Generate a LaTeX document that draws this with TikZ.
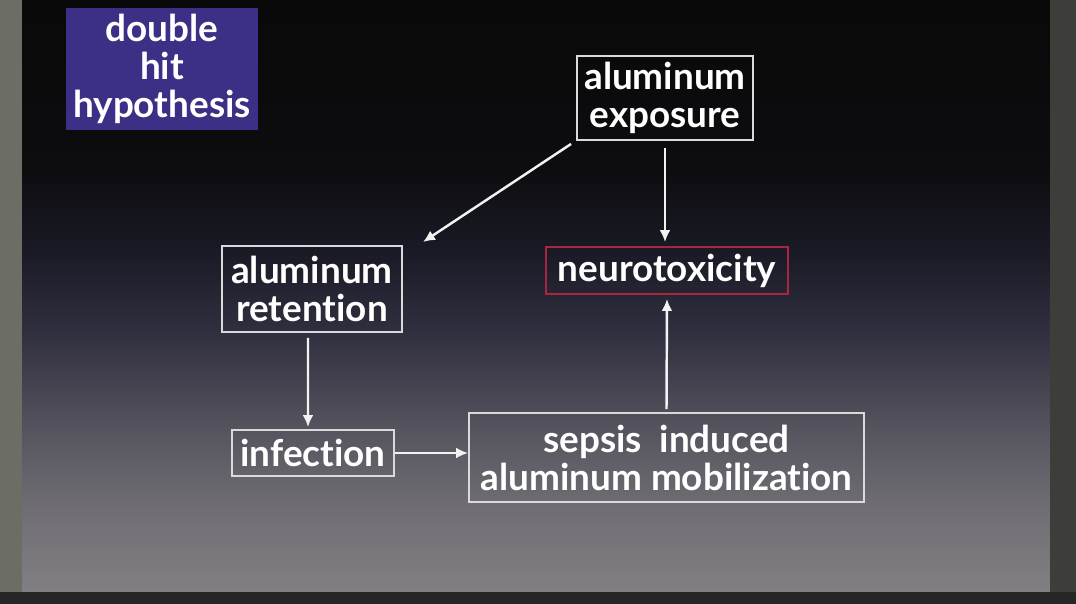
\documentclass[tikz,border=0pt]{standalone}
\usepackage{fontspec}
\setmainfont{Lato}[Ligatures=NoCommon]
\usepackage{tikz}
\usetikzlibrary{arrows.meta,positioning,calc}
\definecolor{bezelL}{HTML}{6C6E66}
\definecolor{bezelR}{HTML}{3D3E39}
\definecolor{bezelB}{HTML}{262626}
\definecolor{titlebg}{HTML}{3B3085}
\definecolor{boxline}{HTML}{DADADA}
\definecolor{redline}{HTML}{A8263F}
\definecolor{arrowc}{HTML}{F2F2F2}
\definecolor{sA}{HTML}{827F84}
\definecolor{sB}{HTML}{6E6C72}
\definecolor{sC}{HTML}{56545E}
\definecolor{sD}{HTML}{302F3F}
\definecolor{sE}{HTML}{1A1A26}
\definecolor{sF}{HTML}{0D0D10}
\definecolor{sG}{HTML}{090909}
\pgfdeclareverticalshading{slide}{100bp}{%
  color(0bp)=(sA); color(25bp)=(sA); color(32.6bp)=(sB); color(38.6bp)=(sC);
  color(47bp)=(sD); color(53.8bp)=(sE); color(60.6bp)=(sF);
  color(75bp)=(sG); color(100bp)=(sG)}

\begin{document}
\begin{tikzpicture}[x=0.02cm,y=-0.02cm,>={Latex[length=2.4mm,width=2.2mm]},
  font=\fontsize{21}{21.6}\selectfont\bfseries,
  box/.style={draw=boxline,line width=1.1pt,text=white,align=center,inner sep=0pt},
  arr/.style={->,arrowc,line width=1.4pt}]
\useasboundingbox (0,0) rectangle (1076,604);
% screen and bezel
\shade[shading=slide] (22,0) rectangle (1050,592);
\fill[bezelL] (0,0) rectangle (22,592);
\fill[bezelR] (1050,0) rectangle (1076,592);
\fill[bezelB] (0,592) rectangle (1076,604);
% title
\node[box,draw=none,fill=titlebg,minimum width=3.84cm,minimum height=2.44cm] (title) at (162,69) {double\\hit\\hypothesis};
% boxes
\node[box,minimum width=3.52cm,minimum height=1.68cm] (expo) at (665,98) {aluminum\\exposure};
\node[box,draw=redline,minimum width=4.84cm,minimum height=0.94cm] (neuro) at (667,270.5) {neurotoxicity};
\node[box,minimum width=3.6cm,minimum height=1.72cm] (ret) at (312,289) {aluminum\\retention};
\node[box,minimum width=3.24cm,minimum height=0.92cm] (inf) at (313,453) {infection};
\node[box,minimum width=7.9cm,minimum height=1.78cm] (sep) at (666.5,457.5) {sepsis\ \ induced\\aluminum mobilization};
% arrows
\draw[arr] ([shift={(-5,3)}]expo.south west) -- ([shift={(20,-3)}]ret.north east);
\draw[arr] ([yshift=-0.14cm]expo.south) -- ([yshift=0.08cm]expo.south |- neuro.north);
\draw[arr] ([xshift=-0.08cm,yshift=-0.1cm]ret.south) -- ([xshift=-0.1cm,yshift=0.04cm]inf.north);
\draw[arr] (inf.east) -- (sep.west |- inf.east);
\draw[arr] ([yshift=0.06cm]sep.north) -- ([yshift=-0.08cm]neuro.south);
\end{tikzpicture}
\end{document}
